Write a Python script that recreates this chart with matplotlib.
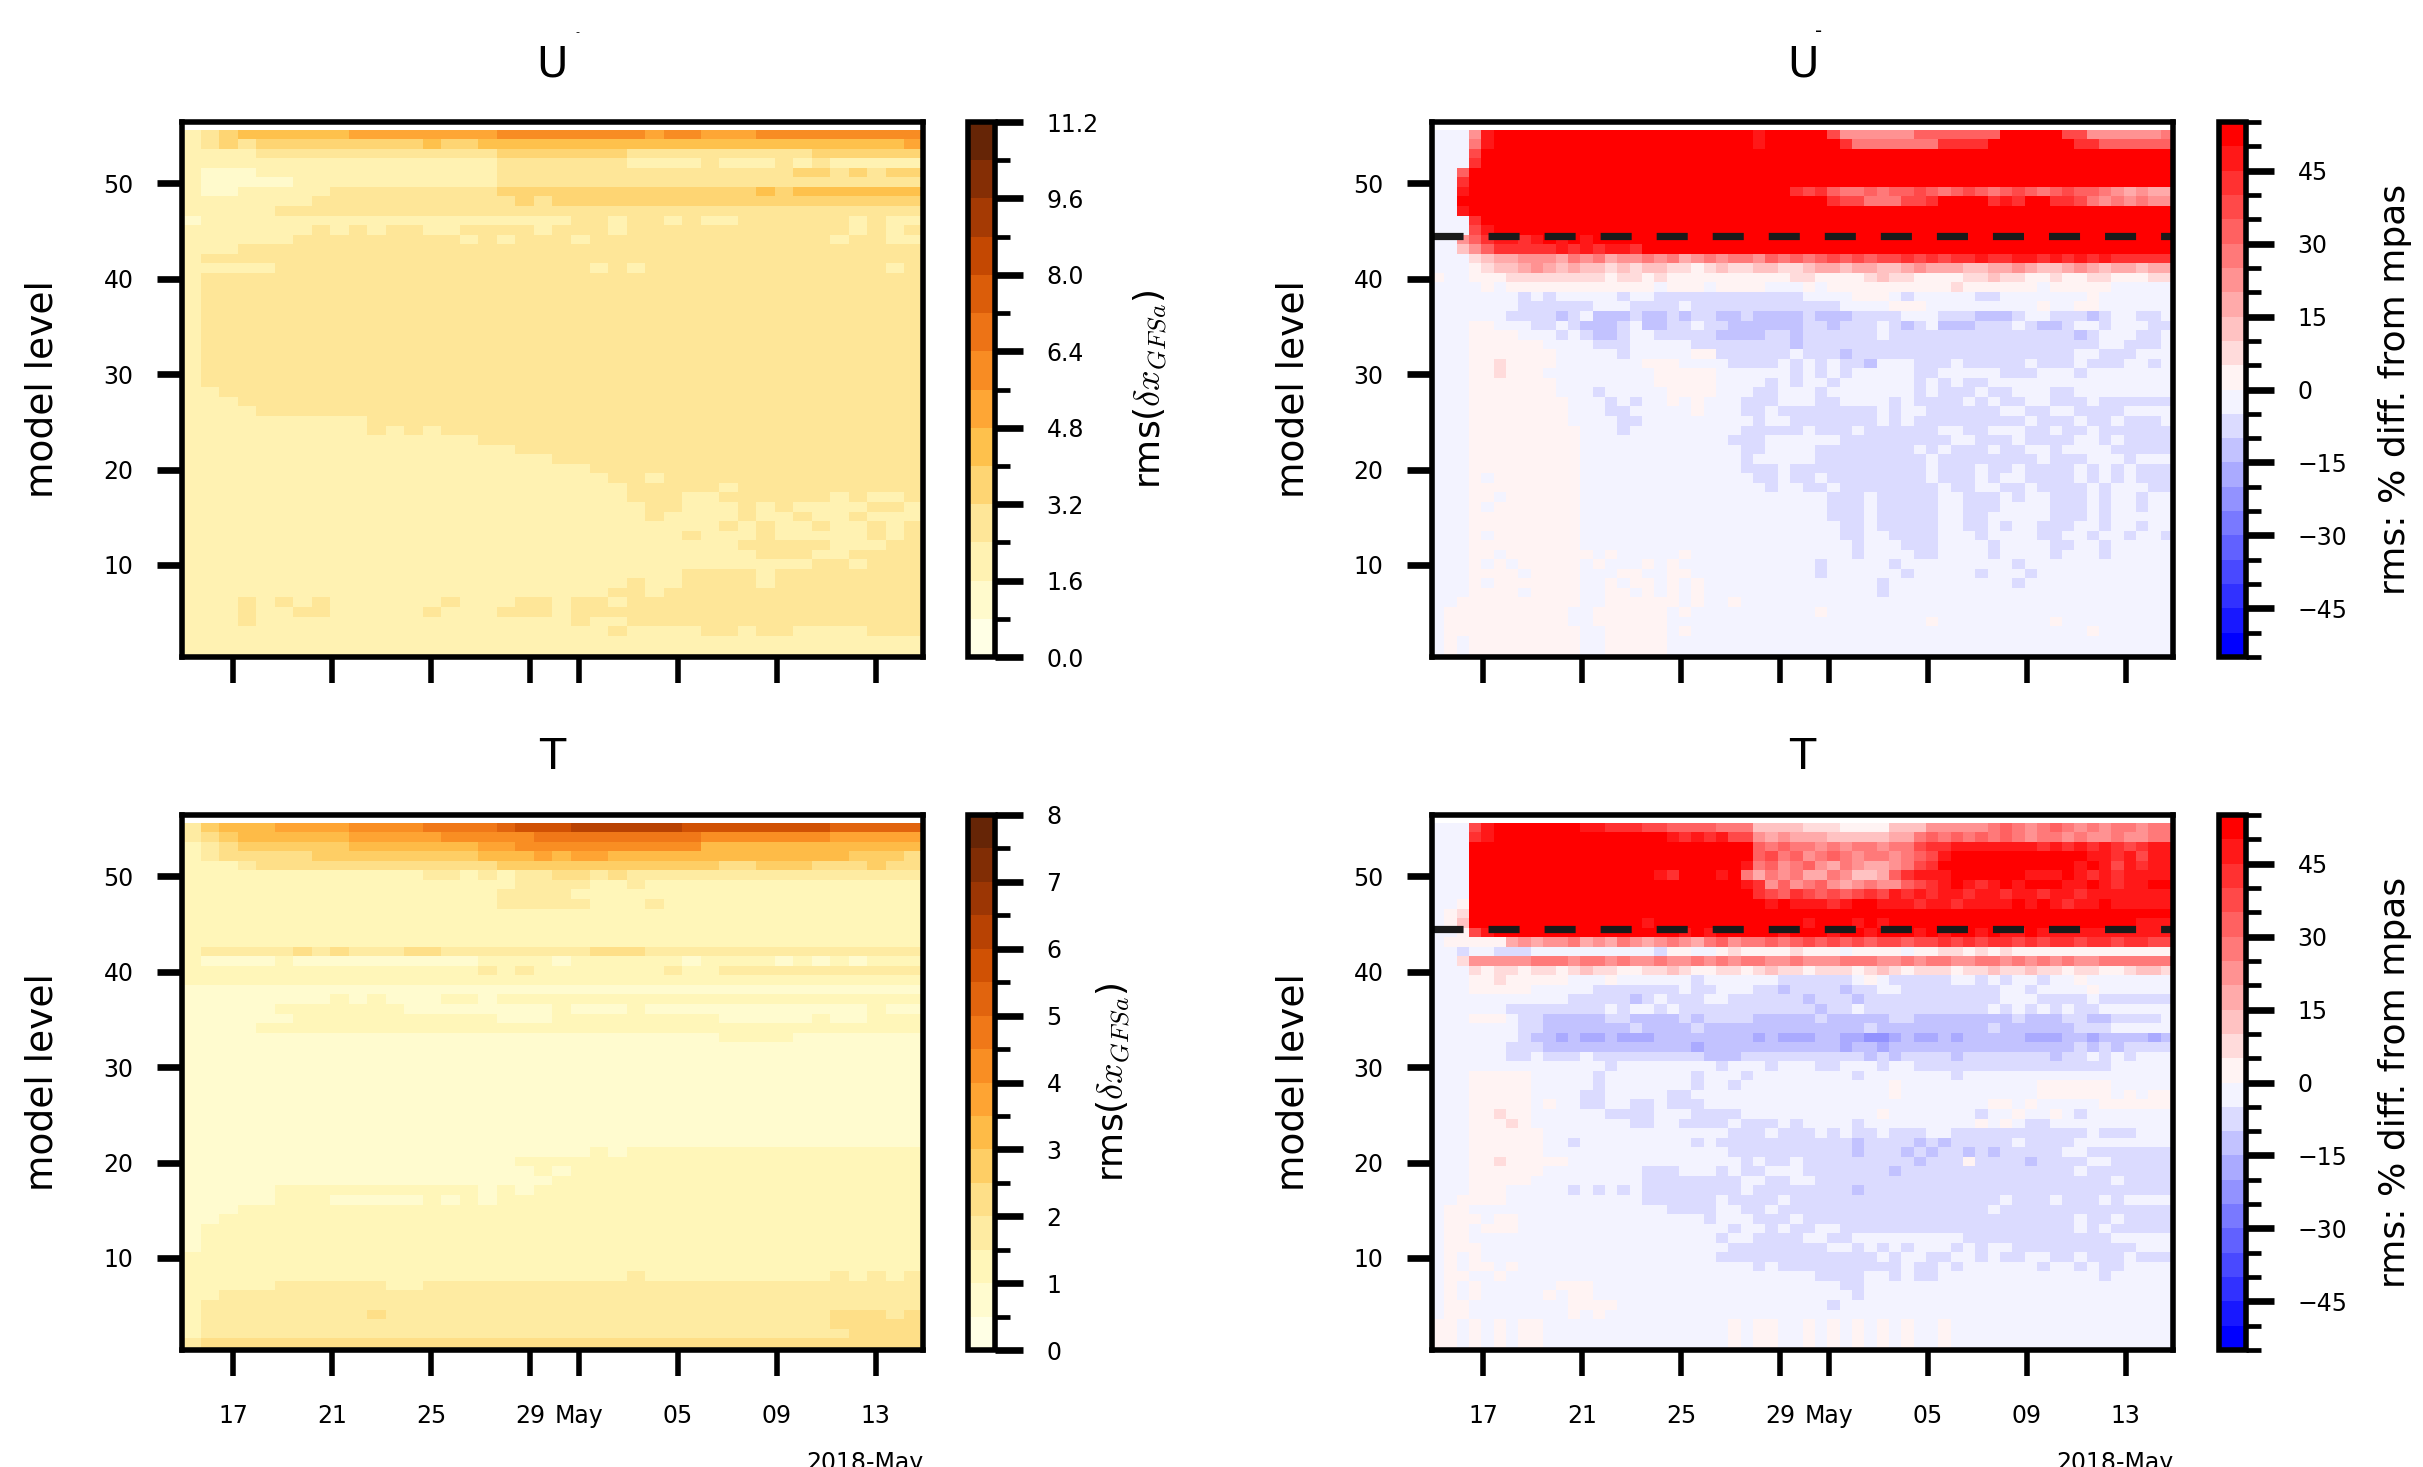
import numpy as np
import matplotlib
matplotlib.use('Agg')
import matplotlib.pyplot as plt
import matplotlib.dates as mdates
from matplotlib.colors import BoundaryNorm
from datetime import datetime

W, H = 2423, 1467
DPI = 200
plt.rcParams['mathtext.fontset'] = 'cm'
plt.rcParams['font.family'] = ['DejaVu Sans']

# ---------- data: colour-class of each cell, run-length notation value*count,
# rows from level 55 (top) to level 1 (bottom)
u_rms_rows = [
"2 3 4 5*6 6*8 7*8 6 7*2 6*3 7*9",
"2 3 4 3 4*9 5 4*2 5*23 6",
"2*4 3*13 4*7 3*10 4*6",
"2*17 3*7 2*4 3 2*3 3 2 3 2*5 3",
"2 1*3 2*13 3*16 4*2 3 4 3 4*2",
"2 1*5 2*11 3*23",
"2 1*2 2*5 3*9 4*14 5 4 5*7",
"2*7 3*11 4 3 4*20",
"2*5 3*35",
"1 2*20 3*2 2 3*2 2 3 2*2 3*6 2 3 2*5",
"2*7 3 2 3 2 3*2 2*2 3*4 2 3*3 2 3*12 2 3 2 3 2*4",
"2*6 3*9 2 3 2 3*3 2 3*13 2 3*2 2*2 3 2*2 3",
"2*3 3*36 3",
"2 3*39",
"2*5 3*17 2 3 2 3*13 2 3*2",
"2 3*39",
"2 3*39","2 3*39","2 3*39","2 3*39","2 3*39","2 3*39","2 3*39","2 3*39","2 3*39","2 3*39","2 3*39",
"2 2 3*38",
"2*3 3*37",
"2*4 3 3*35",
"2*10 3*30",
"2*10 3 2 3 2 3*26",
"2*16 3*24",
"2*18 3*22",
"2*20 3*20",
"2*22 3*18",
"2*23 3*2 2 3*14",
"2*24 3*5 2 3*10 2 3*2 2",
"2*24 3*3 2*2 3*6 2 3 2*2 3 2 3 2",
"2*25 3*2 2*3 3 2 3 2 2 2*2 3*2 2 3*2",
"2*25 3 2*4 3 2*2 3 2*2 3 2*3 3 2 3",
"2*26 2*3 3 2 3 2 2 3 2*2 3 2 3*2",
"2*27 3 2*3 3 2*3 2*2 3 2 3 3",
"2*30 3*5 2*3 3*2",
"2*31 3*3 2*2 3*4",
"2*34 3*2 2 3*3",
"2*27 3*4 2 3*8",
"2*24 3 2*2 3*4 2 3*8",
"2*23 3*2 2 3*14",
"2*3 3 2 3 2 3 2*6 3 2*3 3*2 2 3 3 2 3*14",
"2*3 3 2*2 3 3 2*5 3 2 2 2 3*2 3 2 3*15",
"2*3 3 2 2 2*2 2 2*5 2*3 2*3 2 3 2 2 3*14",
"2*23 3 2*4 3*2 2 3*2 2*2 2 2 3",
"2*40",
"2*40",
]
t_rms_rows = [
"3 5 6*3 7*4 8*4 9*4 10 11*3 12*6 11*8 10*5",
"3 4 5 6*6 7*5 8*5 9*9 8*7 7*2 7*3",
"2 3 4 5*6 6*7 7*2 8*10 6*11",
"2 3 4*5 5 5*8 6*3 7 6 7*2 6*13 5*3 4 5 4",
"2*3 3 4*13 5*12 4*2 5*3 4*3 5 4",
"2*13 3*2 2 3 2 3*2 4*2 3 4 3 3*15",
"2*17 2 3*4 2*2 3 2*14",
"2*17 3*4 2 2*17",
"2*17 3*5 2 2*2 3 2*13",
"2*40","2*40","2*40","2*40",
"2 3*4 3 4 3 4 3*3 4*2 3*8 4*2 4 3 3*15",
"2 1*4 2*1 1*10 2*4 1 2 2 2 2*2 2 1 2*4 1 2 1 2 1 2",
"2*16 3 2 3 2 2*6 3 2*2 3*12",
"2*40",
"1*40",
"1*8 2 1 2 1*3 2*2 1 2*24",
"1*5 2*7 1 1 1 1*4 1 2 1*3 2 1*4 1*8 2 1",
"1*6 2*11 1*3 2*9 1*3 1 1 2 1 1 2",
"1*4 2*2 2*34",
"1*29 2*4 1*6 1",
"1*40","1*40","1*40","1*40","1*40","1*40","1*40","1*40","1*40","1*40","1*40",
"1*22 2 1 2 2*15",
"1*18 2 2 2*20",
"1*19 2 1 2*19",
"1*20 2*20",
"1*5 2*11 1 2 1 2*21",
"1*5 2*3 1*5 2 1 2 1 2*21",
"1*3 2*37",
"1*2 2*38",
"1 2*39",
"1 2*39",
"1 2*39",
"2*40",
"2*40",
"2*24 3 2*10 3 2 3 2 3",
"2*5 3*6 2*2 3*27",
"2*2 3*38",
"2 3*39",
"2 3*9 4 3*24 4*3 3 4",
"2 3*34 4*5",
"2 3*35 4*4",
"3 4*39",
]
u_dif_rows = [
"-1*3 4 9 10*21 9 10*5 7 4*6 6*7 10*5 7*2 4*6 5",
"-1*3 5 9 10*21 9 10*6 8 5*7 8*4 10*7 8*2 6*6",
"-1*3 7 10*56",
"-1*3 8 10*56",
"-1*2 6 10*57",
"-1*2 8 10*57",
"-1*2 9 10*26 8 7 8 6 5 5 6 5 6 6 7 6 5 6 7 6 5 6 7 6 5 6 7 6 6 5 4 3 4 3 3",
"-1*2 10*30 8 7 7 5*3 7*2 8 10*4 8 9 8 10*2 8*2 7 5 4 5 4 5 4 4",
"-1*2 9 10*57",
"-1*3 8 10*56",
"-1*3 7 9 10*55",
"-1*2 4 6 8 9 9 8 9 10 9 10 9 10*47",
"-1*2 2 4 6 8*5 9 8 9 8 9 9 8 10*43",
"-1*3 1 2 3*2 4*3 3 5 4 5 3 4 4 5 4 5 3 4 5 4 5 5 4 6 5 6 5 6 7 6 7 6 7 7 8 7 8 7 8 8 9 8 8 9 9 8 9 8 9 8 9 8 8",
"-1*3 0 1 2 2 3 4 3 2 3 2 2 1 2 1 2 2 1 1 0 1 2 1 1 2 2 1 1 2 3 3 2 3 3 2 2 3 4 3 3 3 2 2 3 3 4 3 2 2 3 4 3 2 3 3 2 3 3",
"0 -1 -1 0*3 1*8 0 1 1 0 1 0*10 1 1 0*4 1 2 1 1 0*4 1 1 2 1 1 0 0 1 0 0 1 1 0 0 0 1",
"-1*4 0 -1 0*12 -1 0 0 0 -1 0*4 -1*3 0 -1 0*10 1 0*6 -1 0*5 -1 -1 -1",
"-1*7 -2 -1 -2 -1*5 -2 -1 -1 -2*12 -1*4 0*3 -1 -2 -1*5 -2*2 -1*7 0 -1*9 -2*2 -1",
"-1*7 -2*6 -1*3 -2*4 -1 -2*12 -1*4 0*3 -1*9 0 -1*2 0*2 -1*8 -2*2 -1",
"-1*6 -2*4 -3 -2 -1 -3*3 -2 -3*2 -2 -3 -2*2 -3*2 -2 -3*4 -2 -3*3 -2*4 -1*3 -2*3 -3 -3 -3 -2 -1*2 -2*3 -3 -2 -1*2 -2*2 -1 -2 -1*2 -2",
"-1*3 0*2 -1*3 -2*2 -1 -2 -3 -3*2 -2 -1 -3*2 -2*2 -1 -2*2 -3 -3 -3 -3 -3 -3 -2*2 -3 -2*3 -1 -2 -3 -2 -1 -3*3 -2*3 -1 -2 -3*2 -2 -1*2 -2 -1*3 -2",
"-1*3 0*4 -1*2 -1 -2 -1 -2 -3 -3 -2 -1 -1 -2 -2*4 -3*4 -2*2 -3 -2*5 -2 -1 -2 -2 -2 -2*2 -2*10 -3 -2 -1*3 -2*2 -1*2",
"-1*3 0*6 -1*3 -1 -2*3 -1*2 -1*3 -2*8 -3 -2*12 -2*11 -2 -1*2 -2*3 -1 -2 -1*2 -1 -2",
"-1*3 0*7 -1*3 -1*2 -2 -1*4 -1 0*2 -2*5 -2 -1 -2 -2*2 -3 -2*2 -2*8 -2*8 -1*2 -2*3 -1*2 -1*3",
"-1*3 0*2 1 0*4 -1*7 0*2 0 -1*3 -1 -2*4 -1 -2 -1 -2 -1 -2*2 -3 -1*3 -2*3 -1 -2*5 -1 -2*3 -1 -2*3 -1 -1 -2 -1 -1",
"-1*3 0 0 1 0*3 -1*9 0*5 -1*4 -1 -1 -2 -1 -2 -1 -2 -1*4 -1 -2*2 -1*5 -2*3 -1*3 -2 -1 -1*3 -1 -1*3",
"-1*3 0*7 -1*8 0*3 0*2 -1*4 -2 -1 -2 -1*2 -2 -1 -1*4 -1 -2 -1 -2 -1 -2 -2 -1*8 -1*4 -1",
"-1*3 0*7 -1*2 -1 -2 -1*5 0*3 0 -1*3 -2*2 -1 -1*2 -2 -1*6 -1 -2 -1 -2*3 -1 -2*2 -1*3 -2*2 -1*4",
"-1*3 0*8 -1 -1 -1 -2 -1 -2 -1 -1 0 -1 0 -1*3 -2*2 -2 -1 -1*2 -2*2 -1*3 -1 -2 -1 -2*3 -2 -1 -2 -1 -2*2 -1 -1 -2*3 -1 -2*3",
"-1*3 0*8 -1 -1*2 -2 -2 -1 -1*4 0 -1*3 -2 -2 -1 -2*5 -2*3 -1 -2 -1*2 -2*6 -1*2 -2 -2 -1 -1 -2 -2*3 -1",
"-1*3 0*8 -1 -1*3 -2*2 -1*4 -1 -1*3 -1 -2 -1*2 -2*7 -1 -2 -1 -2*6 -2*3 -1 -2*3 -1 -2*2 -1 -2*3 -1",
"-1*3 0*9 -1*3 -2 -1*6 -1*3 -2 -2*2 -2*2 -1 -2*3 -1 -2*4 -2*2 -1 -1 -2*2 -1*3 -2*2 -1 -2*2 -1 -2*3",
"-1*3 0*9 -1*12 -2 -2*2 -1*2 -1*3 -1 -2*3 -2*6 -1 -1 -2*3 -1 -2 -2*3 -1 -1 -2 -1 -2*2 -2*2",
"-1*3 0*9 -1*12 -1 -2 -2 -1*2 -1 -1 -2*2 -2*3 -2*3 -1 -2 -1 -2*3 -1 -2*2 -1*2 -2 -1 -1*3 -2",
"-1*3 0*9 -1*13 -2 -1*5 -2*3 -2*6 -1 -2*3 -2 -2*4 -1 -2*3 -1 -1 -1 -2 -1",
"-1*3 0*9 -1*13 -2*3 -1 -2*3 -2*3 -2*5 -1 -2*3 -1 -2*2 -1 -2*4 -1 -2 -1 -2 -1 -2*3 -1",
"-1*3 0 -1 0*7 -1*14 -2*2 -1 -2*2 -1 -2*3 -2*5 -1 -2*3 -1 -2 -1 -1 -2*4 -1 -2 -1 -2 -1 -2*3 -1",
"-1*3 0*9 -1*15 -2 -1*2 -2*2 -1 -2*3 -2*5 -1 -2*2 -1 -1 -2*2 -1 -2*4 -1 -2 -1 -1 -1 -2*3 -1",
"-1*3 0*2 -1 0*6 -1*20 -2*3 -1 -2*5 -1*2 -2*3 -1 -2 -1*2 -2*3 -1 -2 -1*2 -2 -1*2 -2 -1",
"-1*3 0 -1 0*7 -1*20 -2*3 -1 -2*5 -1*2 -2*3 -1 -1 -1*2 -2*3 -1 -2 -1*2 -2 -1*2 -2 -1",
"-1*3 0*9 -1*20 -2*3 -1 -2*5 -1*2 -2*2 -1 -1 -1 -1 -1 -2*3 -1 -2 -1*2 -1 -1*2 -2 -1",
"-1*3 0*9 -1*21 -2*2 -1 -2*5 -1*2 -2*2 -1 -2 -1*2 -2*3 -1*2 -2 -1*2 -2 -1*2 -2 -1",
"-1*3 0 -1 0*7 -1*21 -2*2 -1*2 -2*4 -1*3 -2 -1 -1 -1*2 -2*2 -1 -1 -2 -1*2 -2 -1*2 -2 -1",
"-1*3 0*9 -1*22 -2 -1*3 -2*3 -1*4 -2 -1*4 -2*2 -1*2 -2 -1*3 -1*4",
"-1*3 0*2 -1 0*6 0 -1 0 -1*5 0 -1*13 -2 -1*4 -2*2 -1*4 -2 -1*4 -2 -1 -1*2 -2 -1*3 -1*4",
"-1*3 0 -1 0 -1 0*5 -1 0 -1 -1*2 0 -1 0 -1*11 -2 -1*5 -2 -1*9 -2 -1*13",
"-1*3 0*4 -1 0*4 -1*3 0 0 -1 -1 0*2 -1*10 -2 -1*5 -1 -2 -1*4 -1 -2 -1*3 -2 -1*13",
"-1*3 0 -1 0*7 -1*2 0 -1 0*2 -1 0 -1 0 -1 -1*7 -1*6 -2 -1*9 -1 -2 -1*14",
"-1*3 0*4 -1 0*4 -1*2 0*2 -1 0 -1 0 -1 0 -1*14 -2 -1*9 -1 -1 -1*14",
"-1*2 0 0*9 -1 -1 0 0*4 0 -1 0 -1*2 0 -1*6 -1*30",
"-1 0 0*8 0 -1*1 -1 0*3 0 0*2 -1 0 -1*10 0 -1*30",
"-1 0 0*9 -1*2 0*4 0 0 -1 -1*20 0 -1*9 0 -1*8",
"-1 0 0*10 -1*2 0*5 -1 0 -1*32 0 -1*7",
"-1 0 -1 0*9 -1*2 0*2 0*3 -1*42",
]
t_dif_rows = [
"-1*3 7 9 10*7 9*2 8*3 7*2 6*4 5*3 2*4 1*3 0*4 2*3 4*5 5 6 5 4 5 6 5 4 5 4 5*2 4 5 5 6",
"-1*3 8 9 10*14 9 8 9 8 9 7*2 4 3 4 3 3 3 2*5 3*2 5 6 5 6 5 6 5 6 5 4 5 5 4 5 4 4 5 4 4 5 5 4 5",
"-1*3 10*23 6 5 6 5 5 4 5 4 5 5 4 5 5 7 8 8 9*7 8 9 8 9 8 9 8 7 8 9 9 8 9",
"-1*3 10*23 6 7 5 6 4 5 6 5 4 5 5 4 5 6 7 9 10*11 9 9 8 9 7 9 9 8 9",
"-1*3 10*22 9 5 6 4 5 6 4 3 5 4 3 3 4 5 7 8 10*11 9 10 9 7 9 8 9 9 9",
"-1*3 10*15 9 8 10*3 9 10 5 3 5 4 5 3 3 5 4 2 2 3 6 8 9*3 10*6 9 9 9 10 9 8 9 8 9 9",
"-1*3 10*22 9 8 4 6 4 5 6 4 3 4 5 4 4 6 7 8 9 10 9 8 9 10 9 10*3 9 9 10 9 8 9 9 10",
"-1*3 10*23 8 7 6 8 7 6 7 6 7 8 7 9 8 9 8 9 9 8 9 9 8 9 9 8 9 9 8 9 9 9",
"-1 -1 0 10*24 9 10 9 9 9 8 9 10*2 9 9 9 8 9 9 8 9 9 9 9 10 9 10 9 8 9 9 10 9",
"-1 0 1 10*54 10 10 10",
"-1 0 2 10*14 9 10*12 9 10*3 9 10 9 10*20 9",
"-1*2 0 7 9 10*15 9 10 9 10*5 9 10*3 9 10*2 9 10*3 9 10 9 10*2 9 10 9 9 10 9 9 9 9",
"-1 0 0 0 0 0 3 4 3 4 4 5 3 4 3 5 4 3 4 5 4 3 5 6 4 5 5 6 5 6 7 6 7 6 7 6 7 7 6 7 7 8 7 8 7 8 8 7 8 7 8 8 7 8 8 7 8 8 7 7",
"-1*2 -2 -1 -1 -2 -2 -2 -1 -1*9 -2 0 0 -1 -1 0 1 0 0 0 0 1 0 0 0 -1 0 0 0 0 -1 0 0 1 1 0 1 0 1 0 0 0 0 0 0 0 0",
"-1 -1 1 4*5 5*3 4 5 5 4 5 4 4 5 4 4 5 4 5 4 5 5 4 4 5 4 4 4 5 5 5 4 4 5 4 5 5 4 4 5 5 4 5 4 5 4 5 4 4 5 5",
"-1 -1 -1 1 0 1 1 0 1 1 0 1 2 1 1 0 0 1 1 2 1 0 0 1 1 0 1 2 1 1 0 1 1 1 0 1 2 1 0 1 1 1 0 1 1 2 1 1 2 1 1 0 1 1 0 0 1 2 2 1",
"-1*3 0 0 1 0*5 -1*3 0 -1*2 -1*4 -2 -1 -1*3 -1 -1 -2*2 -2*2 -2 -2 -1 0 -1 -2 -2*4 -1*2 -2 -1 -2 -1 -1 -2 -1 -1 0 -1",
"-1*3 0 0 0 0 0 -1*3 -1 -1 -2*2 -2*5 -1 -2*2 -1 -1 -1 -2*2 -3 -2 -2*3 -3 -2*2 -1 -1 -2*6 -2*2 -1 -1 -2 -1 -1 -1 -1 0 -1",
"-1*7 -1 -1 -1 -1 -2*4 -2 -3 -2 -1 -2*3 -1 -1 -2*2 -2 -2*3 -3 -2*3 -3 -2*2 -2*4 -2*2 -2*3 -1 -1 -1 -2*3 -2 -1 -2",
"-1*6 -2*8 -1 -2 -1 -1 -2 -1 -2*5 -2*3 -2*3 -3 -2*2 -1 -2*10 -1 -2 -1 -2 -1 -2 -1 -2 -2 -1 -1",
"-1*3 0*2 0 -1 -2 -2 -3*5 -2*2 -3*4 -2 -3 -2*4 -3*5 -2 -3*5 -2*2 -3*8 -2 -3*3 -2*2 -3 -3 -2*3 -2 -1 -1",
"-1*6 -1 -2 -2 -3*6 -3 -2 -3 -3*2 -3 -2 -3*3 -3*6 -3*4 -2 -3*6 -3*3 -2 -3 -3*3 -3*2 -2 -2*2 -1*2",
"-1*7 -2 -3 -3 -4 -3 -4*2 -3 -4*2 -4 -3*3 -3 -3*3 -3 -4 -3 -4*3 -3 -3 -4*2 -5 -5 -4 -3 -4 -4 -3 -4 -3 -3 -3 -3 -3 -4*3 -3 -3 -4 -3 -3 -3 -3 -4 -3 -4*2",
"-1*6 -2*2 -2 -3*6 -3 -3 -3*2 -3*2 -4 -3*3 -3 -3 -3 -3*5 -4 -3 -3 -4 -3*3 -3*5 -3 -3 -3*3 -3*2 -2 -3 -2 -3 -2*2",
"-1*6 -2*2 -1 -2*2 -2 -1 -2*2 -2 -2 -2*2 -2*2 -2 -3*3 -2*3 -2 -2*4 -2*2 -3 -2 -3 -2*2 -2*2 -3 -2*2 -2*2 -2*3 -3 -2 -2 -1 -2 -1 -2 -1",
"-1*8 -1*4 -1 -1 -2 -1 -1 -1 -1 -1*4 -2 -1 -1 -1 -2 -1 -1 -1 -2 -2 -1 -1 -1 -2 -1 -1 -2 -2*2 -2*3 -2*5 -2*5 -1 -1*6",
"-1*3 0*5 -1*5 -2 -1*7 -2 -1 -1 -1 -2 -1*4 -1 -1 -1 -1 -2 -1 -1 -1 -1*4 -2 -1*8 -1*6 -1 -1",
"-1*3 0*5 -1*5 -2 -1*7 -2 -1*2 -2 -1*8 -1 -1 -1 -1 0 -1*8 -1*3 0*6 -1*4",
"-1*3 0*5 -1*4 -2*2 -1*5 -2*2 -1 -1 -1*8 -1*3 -1*3 0 -1*9 -1*2 0*6 -1 0 -1 0",
"-1*3 0*5 -1 0 -1*2 -2*2 -1*2 -2*2 -1 -2*3 -1 -1 -1*4 -1 -1*6 -1*3 -1*6 -1 0*2 -1 0 -1*5 0",
"-1*3 0*2 1 0*2 -1*6 -2*4 -1*3 -2*4 -1*5 -1 -1 -1*4 0 -1*3 -1 -1*3 -2 -1*2 0 -1 -1 0 -1 -2 -1*2 -1",
"-1*3 0*3 1 0 -1*8 -2*2 -1 -1 -2*4 -1 -2*2 -2 -1 -2 -1 -1 -1 -1 -2 -1 -1 -1*5 -1 -1 0 -1 0 -1 -2 -2 -1",
"-1*3 0*6 -1*14 -1 -2*2 -2 -1 -2*3 -1 -2 -1 -2*2 -1 -2*3 -1*2 -2 -2 -2 -2*3 -2*3 -2 -2 -1 -2*3 -1",
"-1*3 0*6 -1*2 -2 -1*6 -1*3 -2 -1 -2 -2*4 -2 -2*4 -2 -3 -2 -2 -2 -2 -3 -2 -3 -2*2 -2*2 -2 -1 -2*3 -2 -1",
"-1*3 0*6 -1*15 -2 -2*2 -2*3 -2*4 -3 -2*3 -3 -2 -3 -2*2 -3 -2 -3 -2*4 -2 -1 -1 -2*3 -2*3",
"-1*3 0*2 1 0*5 -1*14 -2 -1 -2*2 -1 -2*2 -2 -2*6 -3 -2*3 0 -2*4 -3 -2*4 -1 -1 -2*7",
"-1*3 0*6 -1*8 -2*3 -1*2 -1 -2 -1 -2*2 -1*3 -2*7 -3 -2*10 -2*4 -1 -2*5",
"-1*3 0*5 -1*9 -2*8 -1*2 -2*2 -1 -1 -2*22 -2*2 -1 -2*5",
"-1*3 0*3 -1*3 -1*2 -2 -1 -2 -1 -2 -1 -2*8 -1 -2*7 -2 -3 -2*16 -2 -2*5",
"-1*2 0*4 -1*11 -2*6 -1 -2*3 -2 -1 -2*17 -1 -2*3 -1 -2*3 -1 -2 -1",
"-1 0*2 -1*16 -2*4 -1*2 -2*2 -1 -2*16 -2 -1 -2*10",
"-1 0*3 -1 0*2 -1*14 -1 -2 -1 -1 -1 -2*3 -1 -2*2 -2*5 -2*3 -2*2 -2*3 -2*7 -1 -2 -2 -1 -2",
"-1 0*2 -1 0 0*2 -1*12 -1 -1 -1 -1 -1 -2 -1 -1 -2 -1 -2*2 -1 -1 -2*4 -2*3 -2*4 -2 -2*7 -1 -2 -1 -2",
"-1 0 0 -1*16 -1 -1*2 -1 -2 -1*2 -2 -2*3 -1 -1 -2*2 -1 -1 -1 -1 -1 -1 -1 -1 -1 -2*12 -1 -1",
"-1 0 0 0 -1*20 -2*3 -2*5 -1*2 -2 -1 -2 -1 -2 -1 -1 -1 -2 -1 -2 -1 -1 -2*8 -2 -2 -1",
"-1 0 -1 0 -1*19 -2*3 -2*5 -2*5 -1 -2 -1*2 -2*2 -1 -1 -2 -1 -2*2 -1*2 -2*2 -1 -2*3 -1 -2",
"-1 0 -1 0 0 -1 0 -1*19 -2 -1 -2*6 -2 -2*3 -1 -2 -2 -1 -2 -1*5 -1 -2 -1 -1 -2 -1 -2 -2 -1 -1",
"-1 0*2 -1*2 0 -1*24 -1 -2*4 -1*2 -2 -1 -2*2 -1 -1*12 -2 -1*6",
"-1 0 -1 0 -1*6 0 0 0 -1*20 -2*2 -1*26",
"-1 0 -1 0 -1*5 0 -1 0 0 -1*20 -1 -2 -1*28",
"-1 0 0 -1*8 0 0 0 0 -1*17 -2 -1*28",
"-1 0 0 -1*8 0 -1 0 -1*19 -1*28",
"0 0 -1 0 -1 0 -1 0 0 -1*15 0 -1 0*2 -1*2 0 -1 0 -1 0 -1 0 -1 0 -1 -1 0 -1*18",
]
x_tick_dates = [(2018,4,17),(2018,4,21),(2018,4,25),(2018,4,29),(2018,5,1),(2018,5,5),(2018,5,9),(2018,5,13)]
x_tick_labels = ['17','21','25','29','May','05','09','13']
y_ticks = [10,20,30,40,50]
u_rms_levels = [0.8*i for i in range(15)]
t_rms_levels = [0.5*i for i in range(17)]
dif_levels = list(range(-55,60,5))
u_cb_ticks = [0,1.6,3.2,4.8,6.4,8.0,9.6,11.2]
u_cb_labels = ['0.0','1.6','3.2','4.8','6.4','8.0','9.6','11.2']
t_cb_ticks = [0,1,2,3,4,5,6,7,8]
dif_cb_ticks = [-45,-30,-15,0,15,30,45]
level_dash = 44.5
x_start = datetime(2018,4,14,22)
x_end = datetime(2018,5,14,22)
y_low, y_high = 0.36, 56.4
cell_low, cell_high = 0.6, 55.6

def parse(rows, ncol):
    out = []
    for r in rows:
        vals = []
        for tok in r.split():
            if '*' in tok:
                v, n = tok.split('*')
                vals += [int(v)]*int(n)
            else:
                vals.append(int(tok))
        vals = (vals + [vals[-1]]*ncol)[:ncol]
        out.append(vals)
    while len(out) < 55:
        out.append(out[-1])
    return np.array(out[:55], float)[::-1]

def axpx(l, t, r, b):
    return [l/W, 1-b/H, (r-l)/W, (b-t)/H]

fig = plt.figure(figsize=(W/DPI, H/DPI), dpi=DPI)
LW = 2.0
panels = [
 dict(rows=u_rms_rows, ncol=40, step=0.8, lev=u_rms_levels, cmap='YlOrBr', title='U', box=(182,122,923,657), cb=(968,995),
      cbt=u_cb_ticks, cbl=u_cb_labels, minor=u_rms_levels, label=r'rms($\delta x_{GFSa}$)', lx=1151, dash=False, xl=False),
 dict(rows=u_dif_rows, ncol=60, step=5, lev=dif_levels, cmap='bwr', title='U', box=(1432,122,2173,657), cb=(2219,2246),
      cbt=dif_cb_ticks, cbl=None, minor=dif_levels, label='rms: % diff. from mpas', lx=2395, dash=True, xl=False),
 dict(rows=t_rms_rows, ncol=40, step=0.5, lev=t_rms_levels, cmap='YlOrBr', title='T', box=(182,815,923,1350), cb=(968,995),
      cbt=t_cb_ticks, cbl=None, minor=t_rms_levels, label=r'rms($\delta x_{GFSa}$)', lx=1114, dash=False, xl=True),
 dict(rows=t_dif_rows, ncol=60, step=5, lev=dif_levels, cmap='bwr', title='T', box=(1432,815,2173,1350), cb=(2219,2246),
      cbt=dif_cb_ticks, cbl=None, minor=dif_levels, label='rms: % diff. from mpas', lx=2395, dash=True, xl=True),
]
x0, x1 = mdates.date2num(x_start), mdates.date2num(x_end)
tick_nums = [mdates.date2num(datetime(*d)) for d in x_tick_dates]
for p in panels:
    l,t,r,b = p['box']
    ax = fig.add_axes(axpx(l,t,r,b))
    C = (parse(p['rows'], p['ncol']) + 0.5) * p['step']
    X = np.linspace(x0, x1, p['ncol']+1)
    Y = np.linspace(cell_low, cell_high, 56)
    norm = BoundaryNorm(p['lev'], len(p['lev'])-1)
    cmap = plt.get_cmap(p['cmap'], len(p['lev'])-1)
    m = ax.pcolormesh(X, Y, C, cmap=cmap, norm=norm, shading='flat', antialiased=False)
    ax.set_xlim(x0, x1); ax.set_ylim(y_low, y_high)
    ax.set_yticks(y_ticks)
    ax.set_xticks(tick_nums)
    if p['xl']:
        ax.set_xticklabels(x_tick_labels)
    else:
        ax.set_xticklabels([])
    ax.tick_params(axis='y', length=9, width=2.4, labelsize=8.5, pad=8.5)
    ax.tick_params(axis='x', length=9.3, width=2.0, labelsize=8.5, pad=10)
    for s in ax.spines.values():
        s.set_linewidth(LW)
    ax.set_title(p['title'], fontsize=15.5, pad=16.5)
    ax.set_ylabel('model level', fontsize=13.5, va='center')
    ax.yaxis.set_label_coords(-139/(r-l), 0.5)
    if p['dash']:
        ax.plot([x0, x1], [level_dash, level_dash], color='#1a1a1a', lw=2.6, dashes=(4.3, 3.46), dash_capstyle='butt')
    cax = fig.add_axes(axpx(p['cb'][0], t, p['cb'][1], b))
    cb = fig.colorbar(m, cax=cax, spacing='proportional', ticks=p['cbt'])
    if p['cbl']:
        cb.set_ticklabels(p['cbl'])
    cb.ax.yaxis.set_ticks(p['minor'], minor=True)
    cb.outline.set_linewidth(LW)
    cax.tick_params(axis='y', which='major', length=10, width=2.4, labelsize=8.5, pad=8.5)
    cax.tick_params(axis='y', which='minor', length=5.5, width=1.7)
    fig.text(p['lx']/W, 1-((t+b)/2)/H, p['label'], rotation=90, fontsize=13, ha='center', va='center')
    if p['xl']:
        fig.text(r/W, 1-1470/H, '2018-May', fontsize=8.5, ha='right', va='baseline')

fig.text(577/W, 1-32/H, '-', fontsize=4, ha='center', va='center')
fig.text(1819/W, 1-32/H, '-', fontsize=7, ha='center', va='center')
fig.savefig('out.png', dpi=DPI)
